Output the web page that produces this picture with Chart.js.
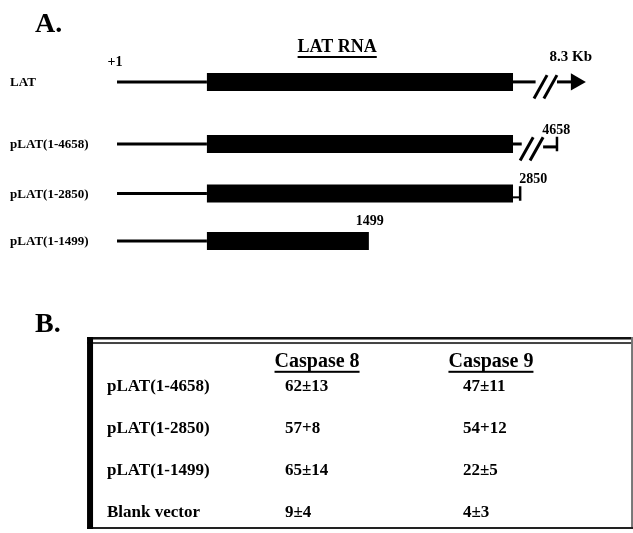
<!DOCTYPE html>
<html>
<head>
<meta charset="utf-8">
<script src="https://cdn.jsdelivr.net/npm/chart.js@4.4.1/dist/chart.umd.min.js"></script>
<style>
  html, body { margin: 0; padding: 0; background: #fff; }
  #wrap { position: relative; width: 633px; height: 533px; }
</style>
</head>
<body>
<div id="wrap"><canvas id="fig"></canvas></div>
<script>
// Panel A - LAT constructs, map units (+1 = 0, end of the LAT RNA box = 100)
const constructs = ['LAT', 'pLAT(1-4658)', 'pLAT(1-2850)', 'pLAT(1-1499)'];
const endLabels = ['8.3 Kb', '4658', '2850', '1499'];
const rnaStart = [22.7, 22.7, 22.7, 22.7];
const rnaEnd = [100, 100, 100, 63.6];
const breakStart = [105.3, 101.8, null, null];
const constructEnd = [118.4, 111.1, 101.8, 63.6];
const endStyle = ['arrow', 'tick', 'tick', 'none'];

// Panel B - caspase activity
const tableRows = ['pLAT(1-4658)', 'pLAT(1-2850)', 'pLAT(1-1499)', 'Blank vector'];
const tableCols = ['Caspase 8', 'Caspase 9'];
const casp8 = [62, 57, 65, 9];
const casp8Err = [13, 8, 14, 4];
const casp9 = [47, 54, 22, 4];
const casp9Err = [11, 12, 5, 3];
const errSign = ['\u00b1', '+', '\u00b1', '\u00b1'];

// layout
const rowY = [-0.28, 1, 2.02, 3];
const PX = 3.96;            // px per map unit
const THIN = 3, BOX = 18;
const SERIF = '"Liberation Serif", "Times New Roman", serif';

function seg(x0, y0, x1, y1, w) {
    return {
        data: [{x: x0, y: y0}, {x: x1, y: y1}],
        showLine: true,
        borderColor: '#000',
        borderWidth: w,
        borderCapStyle: 'butt',
        pointRadius: 0,
        xAxisID: 'x',
        yAxisID: 'y'
    };
}

const datasets = [];
constructs.forEach((name, i) => {
    const y = rowY[i];
    datasets.push(seg(0, y, rnaStart[i], y, THIN));
    datasets.push(seg(rnaStart[i], y, rnaEnd[i], y, BOX));

    let tailFrom = rnaEnd[i];
    if (breakStart[i] !== null) {
        const b = breakStart[i];
        datasets.push(seg(rnaEnd[i], y, b + 0.4, y, THIN));
        datasets.push(seg(b, y + 0.34, b + 3.3, y - 0.14, THIN));
        datasets.push(seg(b + 2.5, y + 0.34, b + 5.8, y - 0.14, THIN));
        tailFrom = b + 5.8;
    }

    if (endStyle[i] === 'arrow') {
        const head = constructEnd[i] - 10 / PX;
        datasets.push(seg(tailFrom, y, head, y, THIN));
        datasets.push({
            data: [{x: head, y: y}],
            pointStyle: 'triangle',
            rotation: 90,
            pointRadius: 10,
            backgroundColor: '#000',
            borderWidth: 0,
            xAxisID: 'x',
            yAxisID: 'y'
        });
    } else if (endStyle[i] === 'tick') {
        const ty = breakStart[i] !== null ? y + 0.06 : y + 0.08;
        datasets.push(seg(tailFrom, ty, constructEnd[i], ty, breakStart[i] !== null ? THIN : 2));
        datasets.push(seg(constructEnd[i], y - 0.15, constructEnd[i], y + 0.15, 2.5));
    }
});

// table values as invisible points, text is drawn at their positions
datasets.push({
    label: 'Caspase 8',
    data: casp8.map((v, r) => ({x: 1, y: r})),
    pointRadius: 0,
    xAxisID: 'xt',
    yAxisID: 'yt'
});
datasets.push({
    label: 'Caspase 9',
    data: casp9.map((v, r) => ({x: 2, y: r})),
    pointRadius: 0,
    xAxisID: 'xt',
    yAxisID: 'yt'
});

function text(ctx, str, x, y, size, align, underline) {
    ctx.font = 'bold ' + size + 'px ' + SERIF;
    ctx.textAlign = align || 'left';
    ctx.textBaseline = 'middle';
    ctx.fillText(str, x, y);
    if (underline) {
        const w = ctx.measureText(str).width;
        const left = align === 'center' ? x - w / 2 : x;
        ctx.fillRect(left, y + underline, w, 2);
    }
}

const figureText = {
    id: 'figureText',
    afterDatasetsDraw(chart) {
        const {ctx, scales} = chart;
        const mx = v => scales.x.getPixelForValue(v);
        const my = v => scales.y.getPixelForValue(v);
        const tx = v => scales.xt.getPixelForValue(v);
        const ty = v => scales.yt.getPixelForValue(v);
        ctx.save();
        ctx.fillStyle = '#000';

        // panel A
        text(ctx, 'A.', mx(-20.7), my(-1.45), 28);
        text(ctx, 'LAT RNA', mx(55.6), my(-1.0), 18, 'center', 9);
        text(ctx, '+1', mx(-0.5), my(-0.69), 14, 'center');
        constructs.forEach((name, i) => {
            text(ctx, name, mx(-27.0), my(rowY[i]) + 1, 13);
        });
        const endPos = [[114.6, -0.52], [110.9, -0.29], [105.1, -0.28], [63.8, -0.41]];
        endLabels.forEach((lab, i) => {
            text(ctx, lab, mx(endPos[i][0]), my(rowY[i] + endPos[i][1]), lab.length > 4 ? 15 : 14, 'center');
        });

        // panel B
        text(ctx, 'B.', mx(-20.7), my(4.73), 28);

        const left = tx(-0.112), right = tx(2.944), top = ty(-1.19), bottom = ty(3.357);
        ctx.fillStyle = '#111';
        ctx.fillRect(left, top, right - left + 2, 2.5);
        ctx.fillStyle = '#444';
        ctx.fillRect(left, top + 5, right - left + 2, 2);
        ctx.fillStyle = '#777';
        ctx.fillRect(right, top, 2, bottom - top);
        ctx.fillStyle = '#222';
        ctx.fillRect(left, bottom - 1, right - left + 2, 2);
        ctx.fillStyle = '#000';
        ctx.fillRect(left, top, 6, bottom - top + 1);

        text(ctx, tableCols[0], tx(1.18), ty(-0.6), 20, 'center', 9);
        text(ctx, tableCols[1], tx(2.157), ty(-0.6), 20, 'center', 9);
        tableRows.forEach((name, r) => {
            text(ctx, name, tx(0), ty(r), 17);
        });
        const caspMeta = [chart.getDatasetMeta(datasets.length - 2), chart.getDatasetMeta(datasets.length - 1)];
        const means = [casp8, casp9], errs = [casp8Err, casp9Err];
        caspMeta.forEach((meta, c) => {
            meta.data.forEach((pt, r) => {
                text(ctx, means[c][r] + errSign[r] + errs[c][r], pt.x, pt.y, 17);
            });
        });
        ctx.restore();
    }
};

new Chart(document.getElementById('fig'), {
    type: 'scatter',
    data: {datasets: datasets},
    options: {
        responsive: true,
        maintainAspectRatio: false,
        animation: false,
        events: [],
        layout: {padding: 0, autoPadding: false},
        plugins: {
            legend: {display: false},
            tooltip: {enabled: false}
        },
        scales: {
            x: {type: 'linear', display: false, min: -29.55, max: 130.30},
            y: {type: 'linear', display: false, reverse: true, min: -1.969, max: 9.021},
            xt: {type: 'linear', axis: 'x', display: false, min: -0.601, max: 2.955},
            yt: {type: 'linear', axis: 'y', display: false, reverse: true, min: -9.214, max: 3.476}
        }
    },
    plugins: [figureText]
});
</script>
</body>
</html>
